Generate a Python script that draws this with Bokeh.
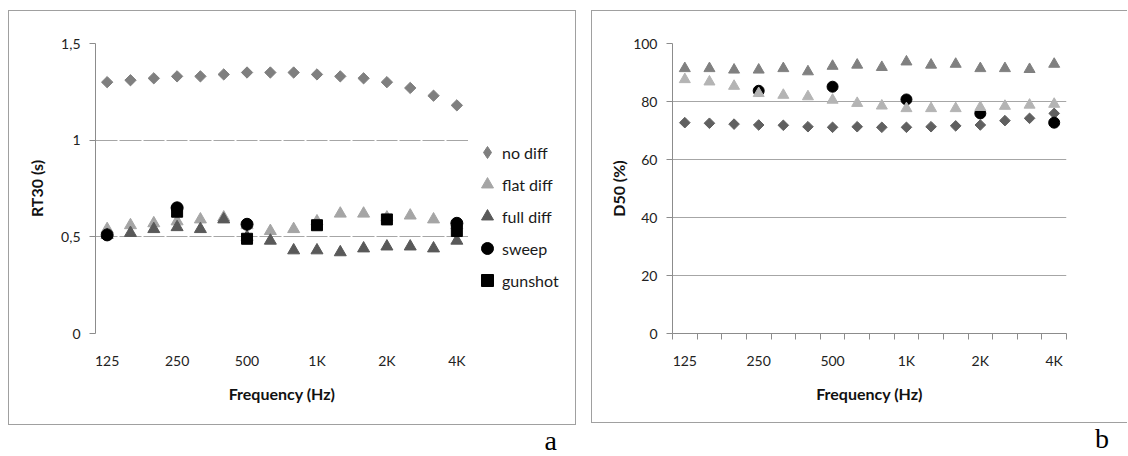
import numpy as np
from bokeh.plotting import figure
from bokeh.models import Range1d, FixedTicker, Legend, LegendItem, Grid, Div
from bokeh.layouts import row, column
from bokeh.embed import file_html
from bokeh.resources import INLINE

nan = float("nan")

# ---- data ----
freqs = ["125", "160", "200", "250", "315", "400", "500", "630", "800",
         "1K", "1.25K", "1.6K", "2K", "2.5K", "3.15K", "4K"]
label_idx = [0, 3, 6, 9, 12, 15]

# RT30 (s)
rt_no_diff = [1.30, 1.31, 1.32, 1.33, 1.33, 1.34, 1.35, 1.35, 1.35, 1.34, 1.33, 1.32, 1.30, 1.27, 1.23, 1.18]
rt_flat_diff = [0.54, 0.56, 0.57, 0.58, 0.59, 0.60, 0.56, 0.53, 0.54, 0.58, 0.62, 0.62, 0.60, 0.61, 0.59, 0.56]
rt_full_diff = [0.51, 0.52, 0.54, 0.55, 0.54, 0.59, 0.50, 0.48, 0.43, 0.43, 0.42, 0.44, 0.45, 0.45, 0.44, 0.48]
rt_sweep = [0.51, nan, nan, 0.65, nan, nan, 0.565, nan, nan, nan, nan, nan, nan, nan, nan, 0.57]
rt_gunshot = [nan, nan, nan, 0.63, nan, nan, 0.49, nan, nan, 0.56, nan, nan, 0.59, nan, nan, 0.53]
rt_ticks = [0, 0.5, 1, 1.5]
rt_tick_labels = ["0", "0,5", "1", "1,5"]

# D50 (%)
d_no_diff = [72.7, 72.5, 72.2, 71.9, 71.8, 71.3, 71.1, 71.3, 71.1, 71.1, 71.3, 71.6, 71.9, 73.4, 74.2, 75.9]
d_full_diff = [91.4, 91.4, 90.9, 90.9, 91.4, 90.3, 92.2, 92.6, 91.8, 93.7, 92.6, 92.9, 91.4, 91.4, 91.1, 92.9]
d_flat_diff = [87.6, 86.8, 85.3, 82.8, 82.2, 81.7, 80.5, 79.4, 78.5, 77.6, 77.6, 77.6, 78.0, 78.4, 78.8, 79.1]
d_sweep = [nan, nan, nan, 83.7, nan, nan, 85.1, nan, nan, 80.7, nan, nan, 75.9, nan, nan, 72.7]
d_ticks = [0, 20, 40, 60, 80, 100]

legend_labels = ["no diff", "flat diff", "full diff", "sweep", "gunshot"]

x = list(range(len(freqs)))

FONT = "Lato"
GRID = "#a6a6a6"
AXIS = "#8c8c8c"
TXT = "#222222"
BORDER = "1px solid #a0a0a0"


def make_fig(width, ymax, yticks, ylabel, mbl, mbr, styles, margin):
    p = figure(width=width, height=413,
               x_range=Range1d(-0.5, len(freqs) - 0.5), y_range=Range1d(0, ymax),
               output_backend="svg", toolbar_location=None,
               min_border_left=mbl, min_border_right=mbr,
               min_border_top=32, min_border_bottom=91,
               styles=styles, margin=margin)
    p.outline_line_color = None
    p.background_fill_color = "white"
    p.border_fill_color = "white"

    xa = p.xaxis[0]
    xa.ticker = FixedTicker(ticks=label_idx,
                            minor_ticks=[i - 0.5 for i in range(len(freqs) + 1)])
    xa.major_label_overrides = {i: freqs[i] for i in label_idx}
    xa.major_tick_line_color = None
    xa.major_tick_out = 0
    xa.major_tick_in = 0
    xa.minor_tick_in = 0
    xa.minor_tick_out = 6
    xa.minor_tick_line_color = AXIS
    xa.axis_line_color = AXIS
    xa.major_label_standoff = 12
    xa.major_label_text_font = FONT
    xa.major_label_text_font_size = "14px"
    xa.major_label_text_color = TXT
    xa.axis_label = "Frequency (Hz)"
    xa.axis_label_text_font = FONT
    xa.axis_label_text_font_size = "16px"
    xa.axis_label_text_font_style = "bold"
    xa.axis_label_text_color = "#111111"
    xa.axis_label_standoff = 12

    ya = p.yaxis[0]
    ya.ticker = FixedTicker(ticks=yticks)
    ya.major_tick_out = 6
    ya.major_tick_in = 0
    ya.minor_tick_line_color = None
    ya.major_tick_line_color = AXIS
    ya.axis_line_color = AXIS
    ya.major_label_standoff = 9
    ya.major_label_text_font = FONT
    ya.major_label_text_font_size = "14px"
    ya.major_label_text_color = TXT
    ya.axis_label = ylabel
    ya.axis_label_text_font = FONT
    ya.axis_label_text_font_size = "16px"
    ya.axis_label_text_font_style = "bold"
    ya.axis_label_text_color = "#111111"

    p.xgrid.grid_line_color = None
    p.ygrid.grid_line_color = GRID
    p.ygrid.grid_line_width = 1
    return p


# ---------------- left chart (a) ----------------
c_no, c_flat, c_full = "#7f7f7f", "#a5a5a5", "#595959"

pa = make_fig(459, 1.5, rt_ticks, "RT30 (s)", 86, 0, {}, (0, 0, 0, 0))
pa.yaxis[0].major_label_overrides = {t: s for t, s in zip(rt_ticks, rt_tick_labels)}
pa.yaxis[0].axis_label_standoff = 12
pa.xaxis[0].axis_line_color = None
pa.xaxis[0].minor_tick_line_color = None
pa.add_layout(Grid(dimension=0, ticker=FixedTicker(ticks=[i + 0.5 for i in range(len(freqs) - 1)]),
                   grid_line_color="white", grid_line_width=2))

pa.scatter(x, rt_no_diff, marker="square", angle=np.pi / 4, size=8, color=c_no)
pa.scatter(x, rt_flat_diff, marker="triangle", size=12, color=c_flat)
pa.scatter(x, rt_full_diff, marker="triangle", size=12, color=c_full)
pa.scatter(x, rt_sweep, marker="circle", size=12, color="black")
pa.scatter(x, rt_gunshot, marker="square", size=11, color="black")

# legend box (its own canvas, to the right of the plot area; frame aligned with the plot's)
pleg = figure(width=107, height=413, x_range=Range1d(0, 1), y_range=Range1d(0, 1),
              x_axis_type=None, y_axis_type=None, output_backend="svg",
              toolbar_location=None, min_border=0, margin=(0, 0, 0, 0))
pleg.outline_line_color = None
pleg.grid.visible = False
leg_styles = [("diamond", c_no), ("triangle", c_flat), ("triangle", c_full),
              ("circle", "black"), ("square", "black")]
leg_renderers = [pleg.scatter(x=[0], y=[nan], marker=m, size=12, color=c)
                 for m, c in leg_styles]
legend = Legend(items=[LegendItem(label=lab, renderers=[r]) for lab, r in
                       zip(legend_labels, leg_renderers)],
                location=(4, 38), orientation="vertical",
                glyph_width=30, glyph_height=30, label_height=20, spacing=2,
                padding=0, margin=0, label_standoff=0,
                border_line_color=None, background_fill_alpha=0,
                label_text_font=FONT, label_text_font_size="16px",
                label_text_color="#1a1a1a")
pleg.add_layout(legend)

left_box = row(pa, pleg, spacing=0, styles={"border": BORDER}, margin=(10, 0, 0, 8))

# ---------------- right chart (b) ----------------
pb = make_fig(536, 100, d_ticks, "D50 (%)", 80, 62,
              {"border-top": BORDER, "border-left": BORDER, "border-bottom": BORDER,
               "border-right": "none"}, (10, 0, 0, 0))
pb.yaxis[0].axis_label_standoff = 2

pb.scatter(x, d_no_diff, marker="square", angle=np.pi / 4, size=7.5, color="#606060")
pb.scatter(x, d_sweep, marker="circle", size=11, color="black")
pb.scatter(x, d_full_diff, marker="triangle", size=11, color="#808080")
pb.scatter(x, d_flat_diff, marker="triangle", size=11, color="#b4b4b4")

letter_style = ("display:block; box-sizing:border-box; text-align:right; "
                "font-family:'Liberation Serif'; font-size:28px; "
                "line-height:31px; padding-top:0px; height:31px; color:#000;")
da = Div(text=f'<div style="{letter_style} width:568px; padding-right:19px;">a</div>',
         width=568, height=31, margin=(0, 0, 0, 8))
db = Div(text=f'<div style="{letter_style} width:537px; padding-right:19px;">b</div>',
         width=537, height=31, margin=(0, 0, 0, 0))

layout = row(column(left_box, da, spacing=0), column(pb, db, spacing=0), spacing=15)

open("out.html", "w").write(file_html(layout, INLINE))
